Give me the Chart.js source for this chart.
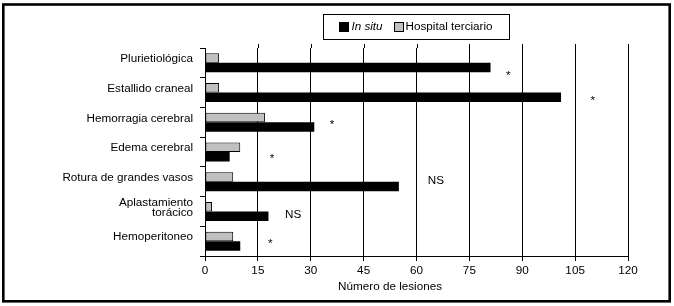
<!DOCTYPE html>
<html>
<head>
<meta charset="utf-8">
<script src="https://cdn.jsdelivr.net/npm/chart.js@4/dist/chart.umd.min.js"></script>
<style>
html,body{margin:0;padding:0;background:#fff;}
#c{display:block;}
</style>
</head>
<body>
<canvas id="c" width="674" height="306"></canvas>
<script>
const categories = ['Plurietiológica', 'Estallido craneal', 'Hemorragia cerebral', 'Edema cerebral', 'Rotura de grandes vasos', ['Aplastamiento', 'torácico'], 'Hemoperitoneo'];
const inSitu = [81, 101, 31, 7, 55, 18, 10];
const hospitalTerciario = [4, 4, 17, 10, 8, 2, 8];
const xTickValues = [0, 15, 30, 45, 60, 75, 90, 105, 120];
const significance = ['*', '*', '*', '*', 'NS', 'NS', '*'];
const seriesNames = ['In situ', 'Hospital terciario'];
const axisTitle = 'Número de lesiones';

const FONT = '"Liberation Sans", Arial, sans-serif';
const FS = 11.7;

// placement of significance marks (data units on x, category-fraction shift on y)
const markPlacement = {
  x: [86, 110, 36, 19, 65.5, 25, 18.5],
  dy: [0.34, 0.19, 0, 0.15, -0.05, 0.1, 0]
};

const decorPlugin = {
  id: 'decor',
  beforeDraw(chart) {
    const c = chart.ctx;
    c.save();
    c.fillStyle = '#fff';
    c.fillRect(0, 0, chart.width, chart.height);
    c.restore();
  },
  afterDraw(chart) {
    const c = chart.ctx;
    const xs = chart.scales.x, ys = chart.scales.y;
    const area = chart.chartArea;
    c.save();
    // extend grid lines slightly above plot
    c.strokeStyle = '#000';
    c.lineWidth = 1;
    xTickValues.forEach(v => {
      if (v === 0) return;
      const px = Math.round(xs.getPixelForValue(v)) + 0.5;
      c.beginPath();
      c.moveTo(px, area.top - 4);
      c.lineTo(px, area.top);
      c.stroke();
    });
    // significance marks
    c.fillStyle = '#000';
    c.font = FS + 'px ' + FONT;
    c.textAlign = 'center';
    c.textBaseline = 'alphabetic';
    const step = ys.getPixelForValue(1) - ys.getPixelForValue(0);
    significance.forEach((t, i) => {
      const px = xs.getPixelForValue(markPlacement.x[i]);
      const py = ys.getPixelForValue(i) + markPlacement.dy[i] * step;
      const m = c.measureText(t);
      const yy = py + (m.actualBoundingBoxAscent - m.actualBoundingBoxDescent) / 2;
      c.fillText(t, px, yy);
    });
    // axis title
    c.font = FS + 'px ' + FONT;
    c.textBaseline = 'middle';
    c.fillText(axisTitle, xs.getPixelForValue(52.5), area.bottom + 31);
    // legend
    const ds = chart.data.datasets;
    const order = [1, 0];
    const legLeft = 323, legTop = 14, legW = 186, legH = 25;
    const sw = 10, gapSw = 2, gapItem = 11;
    const items = order.map(di => {
      c.font = (di === 1 ? 'italic ' : '') + FS + 'px ' + FONT;
      return { d: ds[di], italic: di === 1, w: c.measureText(ds[di].label).width };
    });
    const content = items.reduce((s, it) => s + sw + gapSw + it.w, 0) + gapItem;
    let x = legLeft + (legW - content) / 2;
    const cy = legTop + legH / 2;
    items.forEach((it) => {
      const sx = Math.round(x);
      const sy = Math.round(cy - sw / 2);
      c.fillStyle = it.d.backgroundColor;
      c.fillRect(sx, sy, sw, sw);
      c.strokeStyle = '#000';
      c.lineWidth = 1;
      c.strokeRect(sx + 0.5, sy + 0.5, sw - 1, sw - 1);
      x += sw + gapSw;
      c.font = (it.italic ? 'italic ' : '') + FS + 'px ' + FONT;
      c.fillStyle = '#000';
      c.textAlign = 'left';
      c.textBaseline = 'middle';
      c.fillText(it.d.label, x, cy + 0.5);
      x += it.w + gapItem;
    });
    c.strokeStyle = '#000';
    c.lineWidth = 1;
    c.strokeRect(legLeft + 0.5, legTop + 0.5, legW, legH);
    // outer frame
    c.lineWidth = 2.6;
    c.strokeRect(3.3, 4.5, 666.4, 296.8);
    c.restore();
  }
};

new Chart(document.getElementById('c'), {
  type: 'bar',
  data: {
    labels: categories,
    datasets: [
      { label: seriesNames[1], data: hospitalTerciario, backgroundColor: '#c0c0c0', borderColor: '#000', borderWidth: 1, borderSkipped: false, categoryPercentage: 0.64, barPercentage: 1 },
      { label: seriesNames[0], data: inSitu, backgroundColor: '#000', borderWidth: 0, categoryPercentage: 0.64, barPercentage: 1 }
    ]
  },
  options: {
    indexAxis: 'y',
    responsive: false,
    animation: false,
    devicePixelRatio: 1,
    layout: { padding: { left: 10, right: 46, top: 48, bottom: 0 } },
    plugins: { legend: { display: false }, tooltip: { enabled: false }, title: { display: false } },
    scales: {
      x: {
        min: 0, max: 120,
        afterBuildTicks: s => { s.ticks = xTickValues.map(v => ({ value: v })); },
        grid: { color: '#000', lineWidth: 1, tickLength: 5, drawTicks: true },
        border: { color: '#000', width: 1 },
        ticks: { color: '#000', font: { family: FONT, size: FS }, padding: 3, maxRotation: 0, autoSkip: false },
        afterFit: s => { s.height = 50; }
      },
      y: {
        grid: { offset: true, drawOnChartArea: false, color: '#000', tickLength: 5 },
        border: { color: '#000', width: 1 },
        ticks: { color: '#000', font: { family: FONT, size: FS, lineHeight: '10px' }, padding: 7, labelOffset: -4, crossAlign: 'near', autoSkip: false },
        afterFit: s => { s.width = 195; }
      }
    }
  },
  plugins: [decorPlugin]
});
</script>
</body>
</html>
